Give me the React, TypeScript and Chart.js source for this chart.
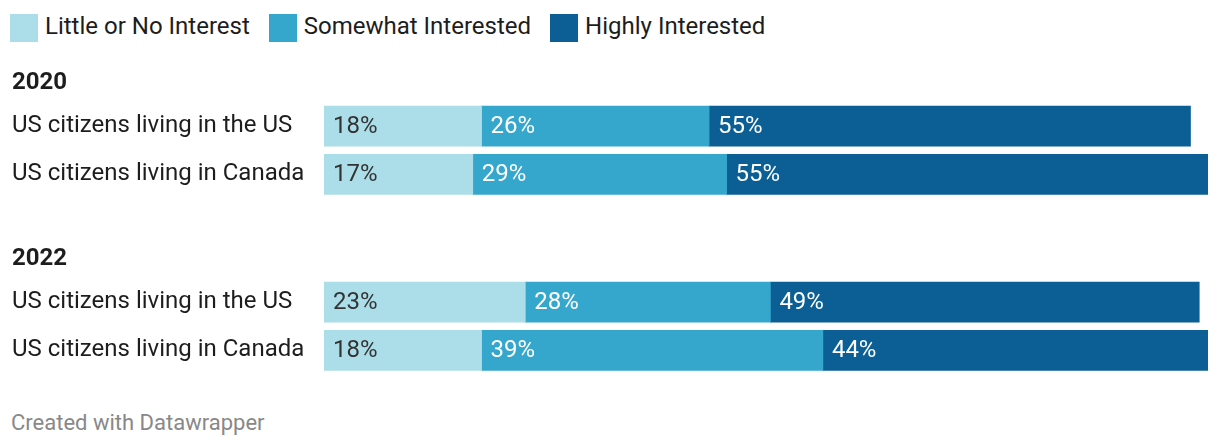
import React, { useEffect, useRef } from "react";
import { Chart, registerables } from "chart.js";

Chart.register(...registerables);

const seriesNames = ["Little or No Interest", "Somewhat Interested", "Highly Interested"];
const seriesColors = ["#acdeea", "#35a7cd", "#0b5f94"];
const labelColors = ["#333333", "#ffffff", "#ffffff"];
const rowLabels = ["US citizens living in the US", "US citizens living in Canada"];

const year2020 = "2020";
const little2020 = [18, 17];
const somewhat2020 = [26, 29];
const highly2020 = [55, 55];

const year2022 = "2022";
const little2022 = [23, 18];
const somewhat2022 = [28, 39];
const highly2022 = [49, 44];

const axisMax = 101;
const FONT = "Roboto, 'Noto Sans', sans-serif";

const valueLabelPlugin = {
  id: "valueLabels",
  afterDatasetsDraw(chart: any) {
    const ctx = chart.ctx;
    ctx.save();
    ctx.font = `400 24px ${FONT}`;
    ctx.textBaseline = "middle";
    ctx.textAlign = "left";
    chart.data.datasets.forEach((ds: any, di: number) => {
      const meta = chart.getDatasetMeta(di);
      meta.data.forEach((el: any, i: number) => {
        const v = ds.data[i];
        const left = Math.min(el.x, el.base);
        ctx.fillStyle = labelColors[di];
        ctx.fillText(`${v}%`, left + 9, el.y + 1);
      });
    });
    ctx.restore();
  },
};

function GroupChart({ title, values, top }: { title: string; values: number[][]; top: number }) {
  const ref = useRef<HTMLCanvasElement>(null);
  useEffect(() => {
    if (!ref.current) return;
    const chart = new Chart(ref.current, {
      type: "bar",
      data: {
        labels: rowLabels,
        datasets: values.map((vals, i) => ({
          label: seriesNames[i],
          data: vals,
          backgroundColor: seriesColors[i],
          borderWidth: 0,
          barThickness: 40,
        })),
      },
      options: {
        indexAxis: "y",
        responsive: false,
        animation: false,
        layout: { padding: { left: 4, right: 4, top: 0, bottom: 0 } },
        plugins: {
          legend: { display: false },
          tooltip: { enabled: false },
          title: {
            display: true,
            text: title,
            align: "start",
            color: "#1d1d1d",
            font: { family: FONT, size: 24, weight: "bold", lineHeight: 1.2 },
            padding: { top: 0, bottom: 4.2 },
          },
        },
        scales: {
          x: {
            stacked: true,
            min: 0,
            max: axisMax,
            display: false,
          },
          y: {
            stacked: true,
            grid: { display: false },
            border: { display: false },
            ticks: {
              crossAlign: "far",
              color: "#1d1d1d",
              font: { family: FONT, size: 24, lineHeight: 1.2 },
              padding: 0,
            },
            afterFit: (scale: any) => {
              scale.width = 312;
            },
          },
        },
      } as any,
      plugins: [valueLabelPlugin],
    });
    return () => chart.destroy();
  }, []);
  return (
    <canvas
      ref={ref}
      width={1204}
      height={144}
      style={{ position: "absolute", left: 0, top, width: 1204, height: 144 }}
    />
  );
}

export default function App() {
  return (
    <div style={{ position: "relative", width: 1204, height: 432, fontFamily: FONT, overflow: "hidden" }}>
      <div style={{ position: "absolute", top: 6, left: 0, height: 28, display: "flex", alignItems: "center" }}>
        {seriesNames.map((n, i) => (
          <div key={n} style={{ display: "flex", alignItems: "center", marginLeft: i === 0 ? 2 : 0, marginRight: 19 }}>
            <div style={{ width: 28, height: 28, background: seriesColors[i], marginRight: 7 }} />
            <span style={{ fontSize: 24, color: "#1d1d1d", lineHeight: "28px", position: "relative", top: -2 }}>{n}</span>
          </div>
        ))}
      </div>
      <GroupChart title={year2020} values={[little2020, somewhat2020, highly2020]} top={61} />
      <GroupChart title={year2022} values={[little2022, somewhat2022, highly2022]} top={237} />
      <div style={{ position: "absolute", left: 3, top: 403, fontSize: 22, color: "#888888", lineHeight: "24px" }}>
        Created with Datawrapper
      </div>
    </div>
  );
}
